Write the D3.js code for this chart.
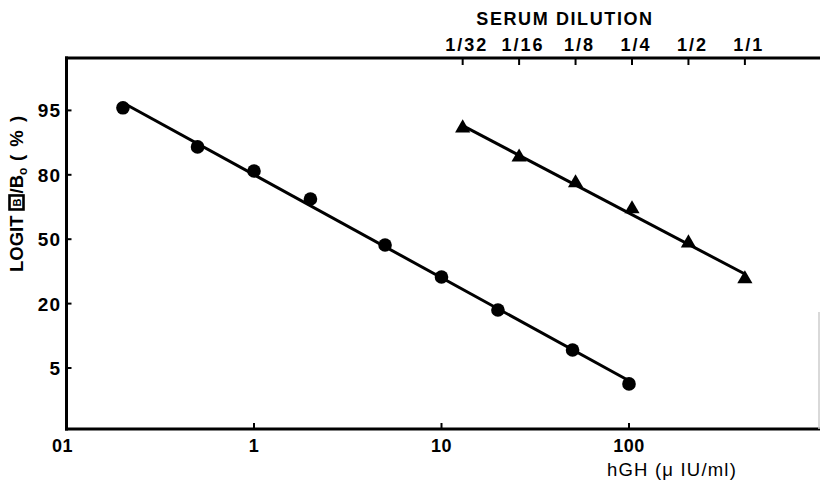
<!DOCTYPE html>
<html>
<head>
<meta charset="utf-8">
<script src="https://cdn.jsdelivr.net/npm/d3@7"></script>
<style>
  body { margin: 0; background: #fff; }
  svg { display: block; font-family: "Liberation Sans", Arial, sans-serif; }
</style>
</head>
<body>
<svg width="820" height="484"></svg>
<script>
// hGH standard curve (circles): concentration in uIU/ml, logit B/B0 in %
var hghDoses = [0.2, 0.5, 1, 2, 5, 10, 20, 50, 100];
var hghBound = [95.6, 86.5, 80.9, 68.7, 47.3, 32.4, 18.5, 9.2, 1.3];

// serum dilution curve (triangles)
var serumDilutions = [1 / 32, 1 / 16, 1 / 8, 1 / 4, 1 / 2, 1];
var serumBound = [90.9, 84.1, 76.2, 64.1, 48.2, 31.5];
var serumLabels = ["1/32", "1/16", "1/8", "1/4", "1/2", "1/1"];

var xTicks = [0.1, 1, 10, 100];
var xTickLabels = ["01", "1", "10", "100"];
var yTicks = [5, 20, 50, 80, 95];

// undiluted serum expressed on the hGH axis
var serumUnits = 415;

var svg = d3.select("svg");
var plotLeft = 66.5, plotTop = 58, plotBottom = 429, plotRight = 820;
var decade = 187.5;

var xScale = d3.scaleLog().domain([0.1, 1000]).range([plotLeft, plotLeft + 4 * decade]);
var topScale = function (d) { return xScale(d * serumUnits); };

// logit axis: ticks evenly spaced on the paper
var yStep = 64.4, y0 = 368;
var yScale = d3.scaleLinear()
    .domain(yTicks)
    .range(yTicks.map(function (d, i) { return y0 - i * yStep; }));

// frame
var frame = svg.append("g").attr("stroke", "#000").attr("stroke-width", 3).attr("fill", "none");
frame.append("line").attr("x1", plotLeft).attr("x2", plotLeft).attr("y1", plotTop - 1.5).attr("y2", plotBottom + 1.5);
frame.append("line").attr("x1", plotLeft - 1.5).attr("x2", plotRight).attr("y1", plotTop).attr("y2", plotTop);
frame.append("line").attr("x1", plotLeft - 1.5).attr("x2", plotRight).attr("y1", plotBottom).attr("y2", plotBottom);
svg.append("line").attr("x1", 819).attr("x2", 819).attr("y1", 312).attr("y2", plotBottom)
    .attr("stroke", "#ccc").attr("stroke-width", 1.5);

// bottom axis
var xAxis = svg.append("g");
xAxis.selectAll("line").data(xTicks.slice(1)).enter().append("line")
    .attr("x1", function (d) { return xScale(d); })
    .attr("x2", function (d) { return xScale(d); })
    .attr("y1", plotBottom).attr("y2", plotBottom - 6)
    .attr("stroke", "#000").attr("stroke-width", 2);
xAxis.selectAll("text").data(xTicks).enter().append("text")
    .attr("x", function (d) { return xScale(d) - (d === 0.1 ? 4 : 0); })
    .attr("y", 452)
    .attr("text-anchor", "middle")
    .attr("font-size", 18)
    .attr("font-weight", "bold")
    .attr("letter-spacing", 0.5)
    .text(function (d, i) { return xTickLabels[i]; });
svg.append("text")
    .attr("x", 672).attr("y", 476)
    .attr("text-anchor", "middle")
    .attr("font-size", 18.5)
    .attr("letter-spacing", 1.2)
    .text("hGH  (\u03bc IU/ml)");

// top axis (serum dilution)
var topAxis = svg.append("g");
topAxis.selectAll("line").data(serumDilutions).enter().append("line")
    .attr("x1", function (d) { return topScale(d); })
    .attr("x2", function (d) { return topScale(d); })
    .attr("y1", plotTop).attr("y2", plotTop + 7)
    .attr("stroke", "#000").attr("stroke-width", 2);
topAxis.selectAll("text").data(serumDilutions).enter().append("text")
    .attr("x", function (d) { return topScale(d) + 4; })
    .attr("y", 51)
    .attr("text-anchor", "middle")
    .attr("font-size", 18)
    .attr("font-weight", "bold")
    .attr("letter-spacing", 2)
    .text(function (d, i) { return serumLabels[i]; });
svg.append("text")
    .attr("x", 565).attr("y", 25)
    .attr("text-anchor", "middle")
    .attr("font-size", 18)
    .attr("font-weight", "bold")
    .attr("letter-spacing", 1.6)
    .text("SERUM DILUTION");

// left axis
var yAxis = svg.append("g");
yAxis.selectAll("line").data(yTicks).enter().append("line")
    .attr("x1", plotLeft).attr("x2", plotLeft + 5)
    .attr("y1", function (d) { return yScale(d); })
    .attr("y2", function (d) { return yScale(d); })
    .attr("stroke", "#000").attr("stroke-width", 2);
yAxis.selectAll("text").data(yTicks).enter().append("text")
    .attr("x", 61)
    .attr("y", function (d) { return yScale(d) + 7; })
    .attr("text-anchor", "end")
    .attr("font-size", 19)
    .attr("font-weight", "bold")
    .attr("letter-spacing", 1)
    .text(function (d) { return d; });

// y axis title: LOGIT [B]/Bo (%)
var yTitle = svg.append("g").attr("transform", "translate(23,272) rotate(-90)");
var t1 = yTitle.append("text").attr("font-size", 18.5).attr("font-weight", "bold").text("LOGIT");
var w1 = t1.node().getComputedTextLength() + 6;
yTitle.append("rect")
    .attr("x", w1).attr("y", -13.5).attr("width", 14).attr("height", 14)
    .attr("fill", "#fff").attr("stroke", "#000").attr("stroke-width", 2.6);
yTitle.append("text").attr("x", w1 + 7).attr("y", -2).attr("text-anchor", "middle")
    .attr("font-size", 11).attr("font-weight", "bold").text("B");
var t2 = yTitle.append("text").attr("x", w1 + 16).attr("font-size", 18.5).attr("font-weight", "bold");
t2.append("tspan").text("/B");
t2.append("tspan").attr("font-size", 12).attr("dy", 4).text("o");
t2.append("tspan").attr("dy", -4).attr("letter-spacing", 1.5).text(" ( % )");

// least squares line in plot space
function fitLine(xs, ys, xf) {
    var px = xs.map(function (d) { return xf(d); });
    var py = ys.map(function (d) { return yScale(d); });
    var mx = d3.mean(px), my = d3.mean(py);
    var b = d3.sum(px, function (d, i) { return (d - mx) * (py[i] - my); }) /
        d3.sum(px, function (d) { return (d - mx) * (d - mx); });
    var a = my - b * mx;
    return [px[0], px[px.length - 1]].map(function (x) { return [x, a + b * x]; });
}

var hghX = function (d) { return xScale(d); };
var lineGen = d3.line();

svg.append("path")
    .attr("d", lineGen(fitLine(hghDoses, hghBound, hghX)))
    .attr("stroke", "#000").attr("stroke-width", 3).attr("fill", "none");
svg.append("path")
    .attr("d", lineGen(fitLine(serumDilutions, serumBound, topScale)))
    .attr("stroke", "#000").attr("stroke-width", 3).attr("fill", "none");

svg.selectAll(".hgh").data(hghDoses).enter().append("circle")
    .attr("class", "hgh")
    .attr("cx", function (d) { return xScale(d); })
    .attr("cy", function (d, i) { return yScale(hghBound[i]); })
    .attr("r", 6.8)
    .attr("fill", "#000");

svg.selectAll(".serum").data(serumDilutions).enter().append("path")
    .attr("class", "serum")
    .attr("transform", function (d, i) {
        return "translate(" + [topScale(d), yScale(serumBound[i])] + ")";
    })
    .attr("d", d3.symbol().type(d3.symbolTriangle).size(100))
    .attr("fill", "#000");
</script>
</body>
</html>
